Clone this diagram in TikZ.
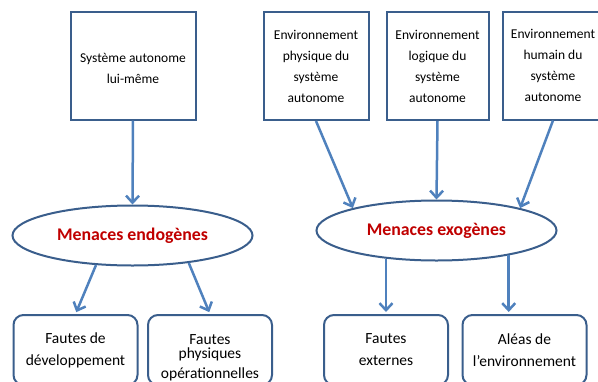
\documentclass[tikz,border=0pt]{standalone}
\usepackage{fontspec}
\setmainfont{Carlito}
\usetikzlibrary{arrows.meta,shapes.geometric}
\definecolor{boxblue}{HTML}{3A5E8C}
\definecolor{arrowblue}{HTML}{4F81BD}
\definecolor{threatred}{HTML}{C00000}
\begin{document}
\begin{tikzpicture}[x=1pt,y=-1pt,
  srcbox/.style={draw=boxblue, line width=2pt, fill=white, minimum height=108pt,
    align=center, inner sep=0pt, font=\fontsize{13.5}{21}\selectfont},
  faultbox/.style={draw=boxblue, line width=2pt, fill=white, rounded corners=10pt,
    minimum width=124pt, minimum height=70pt, align=center, inner sep=0pt,
    font=\fontsize{15.5}{22}\selectfont},
  threat/.style={ellipse, draw=boxblue, line width=2pt, fill=white,
    minimum width=240pt, minimum height=60pt, inner sep=0pt,
    text=threatred, font=\fontsize{17.8}{20}\selectfont\bfseries},
  arr/.style={draw=arrowblue, line width=2.5pt,
    -{Straight Barb[length=7pt,width=13pt,line width=2.5pt]}},
]
\useasboundingbox (0,0) rectangle (598,381);
\clip (0,0) rectangle (598,381);

% sources of threats
\node[srcbox, minimum width=125pt] (b1) at (133,65.5) {\rule{0pt}{16pt}Système autonome\\lui-même};
\node[srcbox, minimum width=105pt] (b2) at (316,66) {Environnement\\physique du\\système\\autonome};
\node[srcbox, minimum width=102pt] (b3) at (437.5,66) {Environnement\\logique du\\système\\autonome};
\node[srcbox, minimum width=100pt] (b4) at (553,65.5) {Environnement\\humain du\\système\\autonome};

% threat classes
\node[threat] (e1) at (132.5,235.5) {Menaces endogènes};
\node[threat] (e2) at (436.5,230.5) {Menaces exogènes};

% fault classes
\node[faultbox] (f1) at (75.5,350) {Fautes de\\développement};
\node[faultbox] (f2) at (210,350) {\rule{0pt}{26pt}Fautes\\[-8pt]physiques\\[-2pt]opérationnelles};
\node[faultbox] (f3) at (386,350) {Fautes\\externes};
\node[faultbox] (f4) at (524.5,350) {Aléas de\\l’environnement};

% connectors
\draw[arr] (b1.south) -- (e1.north);
\draw[arr] (b2.south) -- (e2.165);
\draw[arr] (b3.south) -- (e2.north);
\draw[arr] (b4.south) -- (e2.15);
\draw[arr, shorten >=2pt] (e1.219) -- (f1.north);
\draw[arr, shorten >=2pt] (e1.334) -- (f2.north);
\draw[arr, shorten >=2pt] (f3.north |- e2.209) -- (f3.north);
\draw[arr, shorten >=2pt] (e2.341) -- (e2.341 |- f4.north);
\end{tikzpicture}
\end{document}
